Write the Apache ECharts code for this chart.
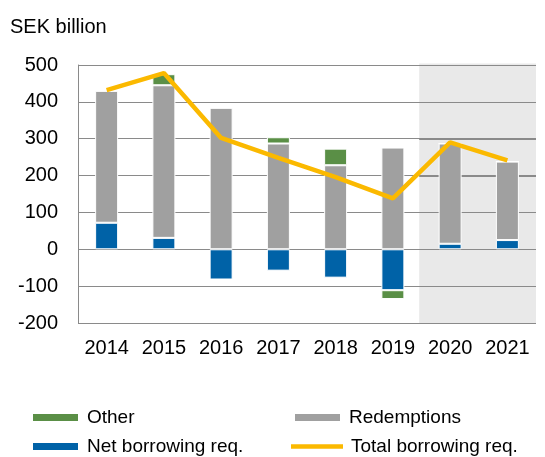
<!DOCTYPE html>
<html>
<head>
<meta charset="utf-8">
<style>
  html, body { margin: 0; padding: 0; background: #fff; }
  #chart { width: 545px; height: 457px; }
</style>
<script src="https://cdn.jsdelivr.net/npm/echarts@6/dist/echarts.min.js"></script>
</head>
<body>
<div id="chart"></div>
<script>
// Swedish central government borrowing requirement, SEK billion
const years = ['2014', '2015', '2016', '2017', '2018', '2019', '2020', '2021'];
const netBorrowing = [72, 31, -82, -58, -77, -111, 15, 25];
const redemptions = [358, 414, 384, 287, 228, 276, 272, 213];
const other = [0, 30, 0, 17, 45, -24, 0, 0];
const totalBorrowing = [432, 478, 302, 248, 196, 138, 290, 241];
const yTicks = [-200, -100, 0, 100, 200, 300, 400, 500];
// forecast years (category index range) are shaded
const forecastBand = [[5.96, 8]];

const FONT = '"Liberation Sans", Arial, Helvetica, sans-serif';
const GRID_COLOR = '#8a8a8a';
const chart = echarts.init(document.getElementById('chart'), null, { renderer: 'canvas' });

const barBase = {
  type: 'bar',
  stack: 'req',
  barWidth: 23,
  xAxisIndex: 0,
  z: 10,
  emphasis: { disabled: true }
};

function legendAt(name, left, top, extra) {
  return Object.assign({
    data: [name],
    left: left,
    top: top,
    padding: 0,
    orient: 'horizontal',
    itemWidth: 47,
    itemHeight: 9,
    icon: 'rect',
    selectedMode: false,
    textStyle: { fontFamily: FONT, fontSize: 19, color: '#000', padding: [0, 0, 0, 3] }
  }, extra || {});
}

chart.setOption({
  animation: false,
  textStyle: { fontFamily: FONT },
  title: {
    text: 'SEK billion',
    left: 5,
    top: 12,
    textStyle: { fontFamily: FONT, fontSize: 20, fontWeight: 'normal', color: '#000' }
  },
  grid: { left: 78, right: 9, top: 65, bottom: 134, containLabel: false },
  xAxis: [
    {
      type: 'category',
      data: years,
      axisLine: { onZero: false, show: false },
      axisTick: { show: false },
      axisLabel: {
        interval: 0,
        hideOverlap: false,
        fontFamily: FONT, fontSize: 20, color: '#000', margin: 15
      }
    },
    {
      type: 'value',
      min: 0,
      max: years.length,
      show: false
    }
  ],
  yAxis: {
    type: 'value',
    z: 5,
    min: yTicks[0],
    max: yTicks[yTicks.length - 1],
    interval: 100,
    axisLine: { show: true, lineStyle: { color: GRID_COLOR, width: 1 } },
    axisTick: { show: false },
    splitLine: { lineStyle: { color: GRID_COLOR, width: 1 } },
    axisLabel: { fontFamily: FONT, fontSize: 20, color: '#000', margin: 20 }
  },
  legend: [
    legendAt('Other', 31, 408),
    legendAt('Redemptions', 293, 408),
    legendAt('Net borrowing req.', 31, 437),
    legendAt('Total borrowing req.', 291, 437, {
      icon: 'path://M0,0 L52,0 L52,4.5 L0,4.5 Z',
      itemWidth: 52,
      itemHeight: 4.5
    })
  ],
  series: [
    {
      // shaded forecast band, with the gridlines redrawn on top of it
      name: 'forecast',
      type: 'custom',
      xAxisIndex: 1,
      z: 1,
      silent: true,
      data: forecastBand,
      renderItem: function (params, api) {
        const x0 = api.coord([api.value(0), 0])[0];
        const x1 = api.coord([api.value(1), 0])[0];
        const cs = params.coordSys;
        const children = [{
          type: 'rect',
          shape: { x: x0, y: cs.y - 1.5, width: x1 - x0, height: cs.height + 2.5 },
          style: { fill: '#e9e9e9' }
        }];
        yTicks.forEach(function (t) {
          const y = Math.round(api.coord([0, t])[1]) + 0.5;
          children.push({
            type: 'line',
            shape: { x1: x0, y1: y, x2: x1, y2: y },
            style: { stroke: GRID_COLOR, lineWidth: 1 }
          });
        });
        return { type: 'group', children: children };
      }
    },
    Object.assign({}, barBase, {
      name: 'Net borrowing req.',
      data: netBorrowing,
      itemStyle: { color: '#0062a7', borderColor: '#ffffff', borderWidth: 1 }
    }),
    Object.assign({}, barBase, {
      name: 'Redemptions',
      data: redemptions,
      itemStyle: { color: '#a0a0a0', borderColor: '#ffffff', borderWidth: 1 }
    }),
    Object.assign({}, barBase, {
      name: 'Other',
      data: other,
      itemStyle: { color: '#5a8f46', borderColor: '#ffffff', borderWidth: 1 }
    }),
    {
      name: 'Total borrowing req.',
      type: 'line',
      data: totalBorrowing,
      symbol: 'none',
      z: 12,
      lineStyle: { color: '#fbb900', width: 4.5 },
      itemStyle: { color: '#fbb900' },
      emphasis: { disabled: true }
    }
  ]
});
</script>
</body>
</html>
